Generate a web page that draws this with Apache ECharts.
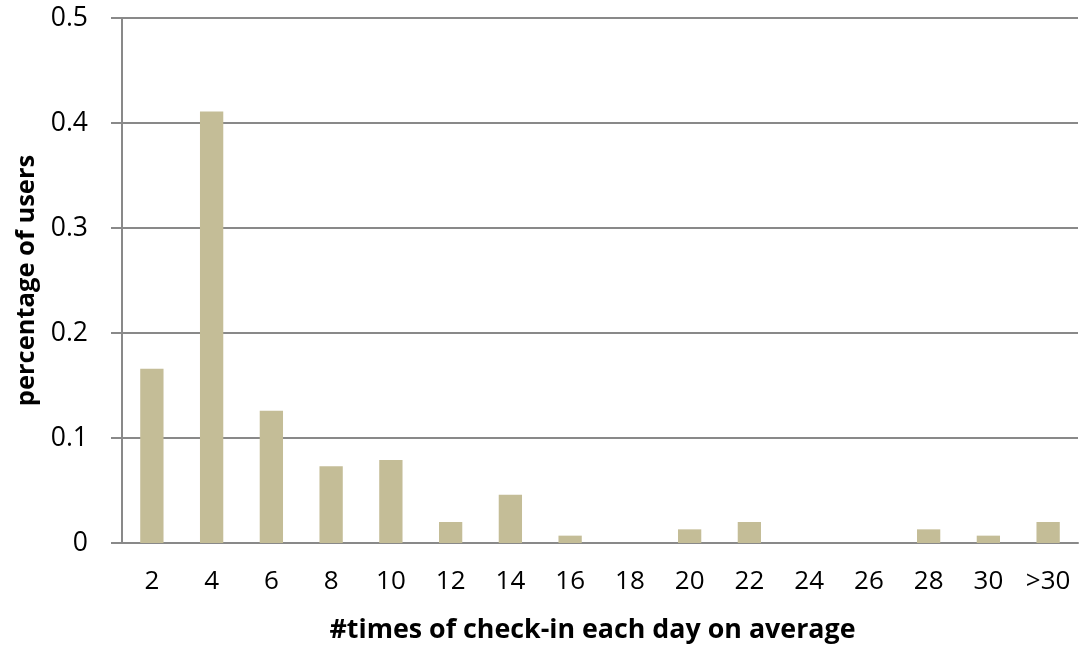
<!DOCTYPE html>
<html>
<head>
<meta charset="utf-8">
<script src="https://cdn.jsdelivr.net/npm/echarts@6/dist/echarts.min.js"></script>
<style>
  html, body { margin: 0; padding: 0; background: #ffffff; }
  #chart { width: 1084px; height: 649px; }
</style>
</head>
<body>
<div id="chart"></div>
<script>
// Average daily check-in counts and the share of users in each bucket
const categories = ['2', '4', '6', '8', '10', '12', '14', '16', '18', '20', '22', '24', '26', '28', '30', '>30'];
const shareOfUsers = [0.166, 0.411, 0.126, 0.073, 0.079, 0.020, 0.046, 0.007, 0, 0.013, 0.020, 0, 0, 0.013, 0.007, 0.020];
const xTitle = '#times of check-in each day on average';
const yTitle = 'percentage of users';

const FONT = '"Open Sans", "DejaVu Sans", sans-serif';
const GRID_GRAY = '#898989';

const chart = echarts.init(document.getElementById('chart'), null, { renderer: 'canvas' });

chart.setOption({
  animation: false,
  backgroundColor: '#ffffff',
  grid: { left: 122, right: 6, top: 18, bottom: 105.5, containLabel: false },
  xAxis: {
    type: 'category',
    data: categories,
    name: xTitle,
    nameLocation: 'middle',
    nameGap: 74,
    nameTextStyle: {
      fontFamily: FONT, fontSize: 26.8, fontWeight: 'bold', color: '#000000',
      padding: [0, 15, 0, 0]
    },
    axisLine: { show: true, lineStyle: { color: GRID_GRAY, width: 2 } },
    axisTick: { show: false },
    axisLabel: { fontFamily: FONT, fontSize: 26, color: '#000000', margin: 26, interval: 0 }
  },
  yAxis: {
    type: 'value',
    min: 0,
    max: 0.5,
    interval: 0.1,
    name: yTitle,
    nameLocation: 'middle',
    nameGap: 75,
    nameRotate: 90,
    nameTextStyle: { fontFamily: FONT, fontSize: 25.5, fontWeight: 'bold', color: '#000000' },
    axisLine: { show: true, lineStyle: { color: GRID_GRAY, width: 2 } },
    axisTick: { show: true, inside: false, length: 11, lineStyle: { color: GRID_GRAY, width: 2 } },
    axisLabel: {
      fontFamily: FONT, fontSize: 26.5, color: '#000000', margin: 34,
      formatter: v => (v === 0 ? '0' : String(Math.round(v * 10) / 10))
    },
    splitLine: { show: true, lineStyle: { color: GRID_GRAY, width: 2 } }
  },
  series: [{
    type: 'bar',
    data: shareOfUsers,
    barWidth: '39%',
    itemStyle: { color: '#C4BD97' }
  }]
});
</script>
</body>
</html>
